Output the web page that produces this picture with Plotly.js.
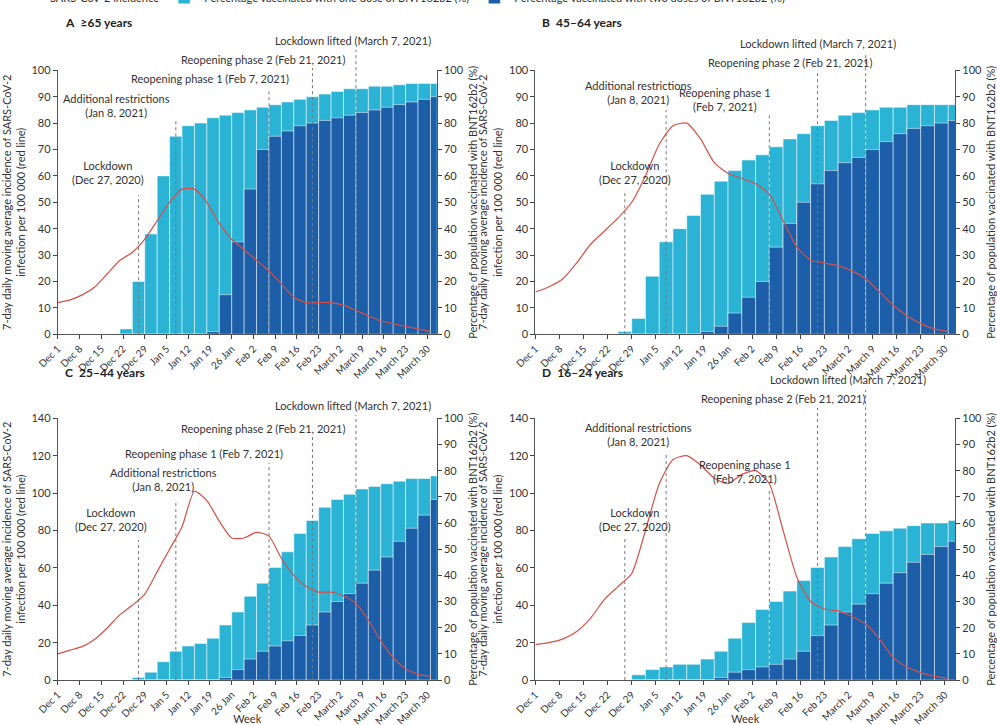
<!DOCTYPE html>
<html>
<head>
<meta charset="utf-8">
<script src="https://cdn.plot.ly/plotly-3.0.1.min.js"></script>
<style>body{margin:0;background:#fff}#chart{width:997px;height:725px}</style>
</head>
<body>
<div id="chart"></div>
<script>
// sample dates, every 4 days
const dates = ['2020-12-01','2020-12-05','2020-12-09','2020-12-13','2020-12-17','2020-12-21','2020-12-25','2020-12-29',
  '2021-01-02','2021-01-06','2021-01-10','2021-01-14','2021-01-18','2021-01-22','2021-01-26','2021-01-30',
  '2021-02-03','2021-02-07','2021-02-11','2021-02-15','2021-02-19','2021-02-23','2021-02-27',
  '2021-03-03','2021-03-07','2021-03-11','2021-03-15','2021-03-19','2021-03-23','2021-03-27','2021-03-31'];

const incA = [12,13,15,18,23,28,31,36,43,50,55,55,50,42,36,32,28,24,19,14,12,12,12,11,9,7,5,4,3,2,1];
const oneA = [0,0,0,0,0,2,20,38,60,75,79,80,82,83,84,85,86,87,88,89,90,91,92,93,93,94,94,94.5,95,95,95];
const twoA = [0,0,0,0,0,0,0,0,0,0,0,0,1,15,35,55,70,75,77,79,80,81,82,83,84,85,86,87,88,89,90];

const incB = [16,18,21,27,34,39,44,50,60,72,79,80,74,65,61,59,57,53,43,33,28,27,26,24,21,16,11,7,4,2,1];
const oneB = [0,0,0,0,0,0,1,6,22,35,40,45,53,58,62,66,68,71,74,76,79,81,83,84,85,86,86,87,87,87,87];
const twoB = [0,0,0,0,0,0,0,0,0,0,0,0,1,3,8,14,20,33,42,50,57,62,65,67,70,73,76,78,79,80,81];

const incC = [14,16,18,22,28,35,40,46,58,70,82,101,96,85,76,76,79,77,65,56,50,47,47,45,41,32,21,12,6,3,2];
const oneC = [0,0,0,0,0,0,1,3,7,11,13,14,16,21,26,32,37,43,49,56,61,66,69,71,73,74,75,76,77,77,78];
const twoC = [0,0,0,0,0,0,0,0,0,0,0,0,0,1,4,8,11,13,15,17,21,26,30,33,37,42,47,53,58,63,69];

const incD = [19,20,22,26,33,43,50,57,80,105,118,120,115,108,105,110,112,105,80,55,42,38,37,34,30,22,12,7,4,2,1];
const oneD = [0,0,0,0,0,0,0,2,4,5,6,6,8,11,16,22,27,30,34,38,43,47,51,54,56,57,58,59,60,60,61];
const twoD = [0,0,0,0,0,0,0,0,0,0,0,0,0,1,3,4,5,6,8,11,17,21,26,29,33,37,41,45,48,51,53];

const tickDates = ['2020-12-01','2020-12-08','2020-12-15','2020-12-22','2020-12-29','2021-01-05','2021-01-12','2021-01-19',
  '2021-01-26','2021-02-02','2021-02-09','2021-02-16','2021-02-23','2021-03-02','2021-03-09','2021-03-16','2021-03-23','2021-03-30'];
const tickText = ['Dec 1','Dec 8','Dec 15','Dec 22','Dec 29','Jan 5','Jan 12','Jan 19','26 Jan','Feb 2','Feb 9','Feb 16',
  'Feb 23','March 2','March 9','March 16','March 23','March 30'];

const eventDates = ['2020-12-27','2021-01-08','2021-02-07','2021-02-21','2021-03-07'];
const eventText = ['Lockdown<br>(Dec 27, 2020)','Additional restrictions<br>(Jan 8, 2021)','Reopening phase 1 (Feb 7, 2021)',
  'Reopening phase 2 (Feb 21, 2021)','Lockdown lifted (March 7, 2021)'];

const ONE = '#2bb3d6', TWO = '#1c5ea8', RED = '#d6504a';
const DAY = 86400000;

const panels = [
  {name:'A', label:'≥65 years', inc:incA, one:oneA, two:twoA, leftMax:100, x:[0.058,0.438], y:[0.539,0.903], titleY:22,
   eventTop:[195,120,88,68,50], textX:['2020-12-17','2020-12-20','2021-01-19','2021-02-05','2021-03-06'],
   textY:[173,105,78,60,40]},
  {name:'B', label:'45–64 years', inc:incB, one:oneB, two:twoB, leftMax:100, x:[0.537,0.958], y:[0.539,0.903], titleY:22,
   eventTop:[190,110,115,70,52], textX:['2020-12-30','2020-12-31','2021-01-25','2021-02-13','2021-02-21'],
   textY:[172,93,99,62,43]},
  {name:'C', label:'25–44 years', inc:incC, one:oneC, two:twoC, leftMax:140, x:[0.058,0.438], y:[0.062,0.423], titleY:372,
   eventTop:[540,500,463,436,415], textX:['2020-12-18','2021-01-04','2021-01-17','2021-02-05','2021-03-06'],
   textY:[519,479,453,428,405]},
  {name:'D', label:'16–24 years', inc:incD, one:oneD, two:twoD, leftMax:140, x:[0.537,0.958], y:[0.062,0.423], titleY:372,
   eventTop:[538,452,490,408,390], textX:['2020-12-30','2020-12-31','2021-01-31','2021-02-11','2021-03-02'],
   textY:[519,434,472,398,379]}
];

const traces = [];
const layout = {
  width:997, height:725, margin:{l:0,r:0,t:0,b:0, autoexpand:false},
  paper_bgcolor:'#fff', plot_bgcolor:'#fff',
  font:{family:'Lato, "Liberation Sans", sans-serif', size:11, color:'#333'},
  barmode:'overlay', bargap:0,
  legend:{orientation:'h', x:0.01, y:1.003, yanchor:'middle', font:{size:11}, traceorder:'normal', itemwidth:30},
  shapes:[], annotations:[]
};
const py = p => 1 - p/725;

panels.forEach((p, i) => {
  const n = i*2 + 1;
  const xa = 'x' + (i ? i+1 : ''), line = 'y' + (n+1);
  const xk = 'xaxis' + (i ? i+1 : '');
  traces.push({type:'scatter', mode:'lines', x:dates, y:p.inc, xaxis:xa, yaxis:line,
    line:{color:RED, width:1.2, shape:'spline', smoothing:0.6}, name:'SARS-CoV-2 incidence', showlegend:i===0});
  traces.push({type:'bar', x:dates, y:p.one, xaxis:xa, yaxis:'y'+n, marker:{color:ONE, line:{color:'#fff', width:0.5}},
    width:4*DAY, offset:0, name:'Percentage vaccinated with one dose of BNT162b2 (%)', showlegend:i===0});
  traces.push({type:'bar', x:dates, y:p.two, xaxis:xa, yaxis:'y'+n, marker:{color:TWO, line:{color:'#fff', width:0.5}},
    width:4*DAY, offset:0, name:'Percentage vaccinated with two doses of BNT162b2 (%)', showlegend:i===0});

  layout[xk] = {domain:p.x, type:'date', range:['2020-12-01','2021-04-02'], anchor:'y'+n,
    tickvals:tickDates, ticktext:tickText, tickangle:-45, ticks:'outside', ticklen:4,
    showline:true, linecolor:'#555', showgrid:false, zeroline:false, tickfont:{size:10},
    title:{text:i>1 ? 'Week' : '', font:{size:11}, standoff:2}};
  layout['yaxis'+n] = {domain:p.y, anchor:xa, side:'right', range:[0,100], dtick:10, ticks:'outside', ticklen:4,
    showline:true, linecolor:'#555', showgrid:false, zeroline:false, tickfont:{size:11},
    title:{text:'Percentage of population vaccinated with BNT162b2 (%)', font:{size:11}, standoff:6}};
  layout['yaxis'+(n+1)] = {overlaying:'y'+n, anchor:xa, side:'left', range:[0,p.leftMax], dtick:p.leftMax===100?10:20,
    ticks:'outside', ticklen:4, showline:true, linecolor:'#555', showgrid:false, zeroline:false, tickfont:{size:11},
    title:{text:'7-day daily moving average incidence of SARS-CoV-2<br>infection per 100 000 (red line)', font:{size:11}, standoff:4}};

  layout.annotations.push({xref:'paper', yref:'paper', x:p.x[0]+0.005, y:py(p.titleY), xanchor:'left', yanchor:'middle',
    showarrow:false, text:'<b>'+p.name+'</b>  <b>'+p.label+'</b>', font:{size:12, color:'#222'}});

  eventDates.forEach((d, k) => {
    layout.shapes.push({type:'line', xref:xa, yref:'paper', x0:d, x1:d, y0:p.y[0], y1:py(p.eventTop[k]),
      line:{color:'#777', width:1, dash:'dot'}});
    let txt = eventText[k];
    if (k===2 && (p.name==='B' || p.name==='D')) txt = 'Reopening phase 1<br>(Feb 7, 2021)';
    layout.annotations.push({xref:xa, yref:'paper', x:p.textX[k], y:py(p.textY[k]), xanchor:'center', yanchor:'middle',
      showarrow:false, text:txt, font:{size:11, color:'#333'}});
  });
});

Plotly.newPlot('chart', traces, layout, {displayModeBar:false, staticPlot:true});
</script>
</body>
</html>
